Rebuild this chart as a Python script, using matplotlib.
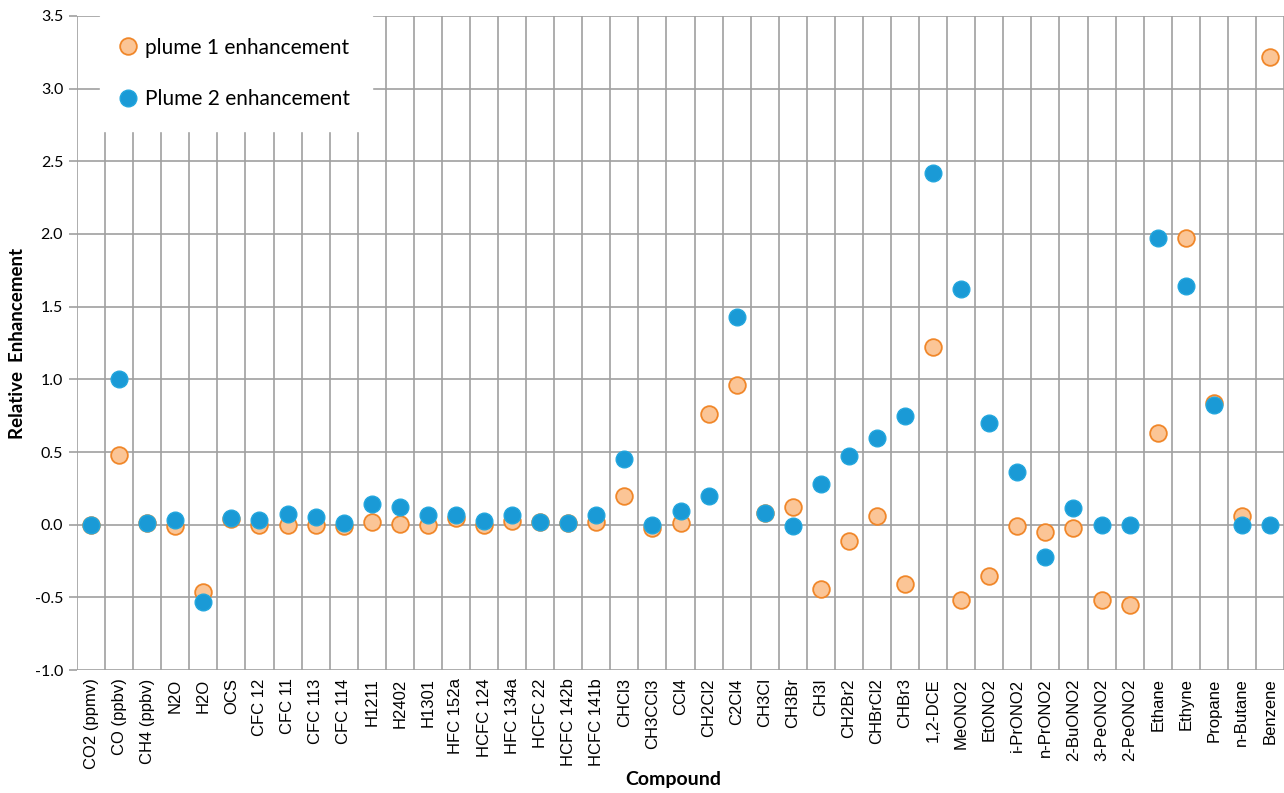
import numpy as np
import matplotlib.pyplot as plt

compounds = ['CO2 (ppmv)', 'CO (ppbv)', 'CH4 (ppbv)', 'N2O', 'H2O', 'OCS',
             'CFC 12', 'CFC 11', 'CFC 113', 'CFC 114', 'H1211', 'H2402', 'H1301',
             'HFC 152a', 'HCFC 124', 'HFC 134a', 'HCFC 22', 'HCFC 142b', 'HCFC 141b',
             'CHCl3', 'CH3CCl3', 'CCl4', 'CH2Cl2', 'C2Cl4', 'CH3Cl', 'CH3Br', 'CH3I',
             'CH2Br2', 'CHBrCl2', 'CHBr3', '1,2-DCE', 'MeONO2', 'EtONO2', 'i-PrONO2',
             'n-PrONO2', '2-BuONO2', '3-PeONO2', '2-PeONO2', 'Ethane', 'Ethyne',
             'Propane', 'n-Butane', 'Benzene']

plume1 = [0.0, 0.48, 0.01, -0.01, -0.46, 0.04,
          0.0, 0.0, 0.0, -0.01, 0.02, 0.005, 0.0,
          0.045, 0.0, 0.025, 0.02, 0.01, 0.02,
          0.2, -0.02, 0.01, 0.76, 0.96, 0.08, 0.12, -0.44,
          -0.11, 0.06, -0.41, 1.22, -0.52, -0.355, -0.01,
          -0.05, -0.02, -0.52, -0.55, 0.63, 1.97,
          0.835, 0.06, 3.22]

plume2 = [0.0, 1.0, 0.015, 0.035, -0.53, 0.045,
          0.03, 0.075, 0.055, 0.015, 0.14, 0.12, 0.065,
          0.07, 0.025, 0.07, 0.02, 0.015, 0.07,
          0.455, -0.005, 0.095, 0.2, 1.43, 0.08, -0.01, 0.28,
          0.475, 0.595, 0.745, 2.42, 1.62, 0.7, 0.365,
          -0.225, 0.115, 0.0, 0.0, 1.97, 1.645,
          0.82, 0.0, 0.0]

x = np.arange(len(compounds))

fig = plt.figure(figsize=(12.84, 7.93), dpi=100)
ax = fig.add_axes([0.06, 0.155, 0.94, 0.825])

ax.plot(x, plume1, 'o', ls='none', ms=12, mfc='#FBC596', mec='#F0872A', mew=1.3,
        label='plume 1 enhancement', zorder=3)
ax.plot(x, plume2, 'o', ls='none', ms=12, mfc='#1A9AD6', mec='#22A6DE', mew=1.0,
        label='Plume 2 enhancement', zorder=4)

ax.set_xlim(-0.5, len(compounds) - 0.5)
ax.set_ylim(-1.0, 3.5)
ax.set_yticks(np.arange(-1.0, 3.51, 0.5))
ax.set_yticklabels(['%.1f' % v for v in np.arange(-1.0, 3.51, 0.5)],
                   fontsize=11.5, family='Lato')
ax.set_xticks(x)
ax.set_xticklabels(compounds, rotation=90, fontsize=12, family='Liberation Sans')
ax.set_xticks(np.arange(-0.5, len(compounds), 1), minor=True)

for s in ax.spines.values():
    s.set_visible(False)
ax.tick_params(axis='x', which='both', length=0, pad=6)
ax.tick_params(axis='y', length=6, color='#A0A0A0', width=1.2, pad=4)
ax.grid(axis='y', which='major', color='#A0A0A0', lw=1.2)
ax.grid(axis='x', which='minor', color='#A0A0A0', lw=1.2)
ax.set_axisbelow(True)

ax.set_xlabel('Compound', fontsize=14, family='Lato', fontweight='bold')
ax.xaxis.set_label_coords(0.494, -0.155)
ax.set_ylabel('Relative  Enhancement', fontsize=13.5, family='Lato', fontweight='bold',
              labelpad=6)

leg = ax.legend(loc='upper left', bbox_to_anchor=(0.019, 1.0),
                prop={'family': 'Lato', 'size': 15}, frameon=True, fancybox=False,
                facecolor='white', edgecolor='white', framealpha=1,
                handlelength=0.6, handletextpad=0.5, labelspacing=1.5,
                borderpad=1.05, borderaxespad=0)
leg.set_zorder(5)

fig.savefig('out.png', dpi=100)
